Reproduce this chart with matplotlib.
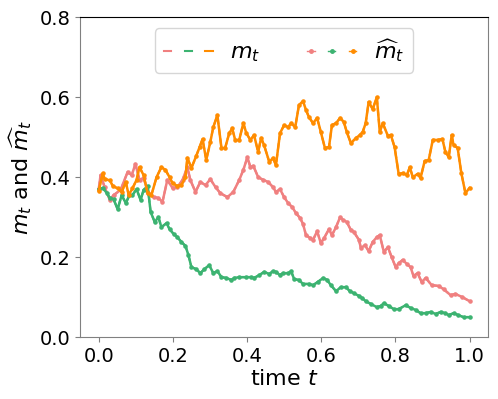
import numpy as np
import matplotlib
matplotlib.use("Agg")
import matplotlib.pyplot as plt
from matplotlib.legend_handler import HandlerTuple

# time points and values
t_pink = [0.000, 0.005, 0.016, 0.030, 0.040, 0.059, 0.078, 0.089, 0.099, 0.110,
          0.121, 0.134, 0.148, 0.161, 0.172, 0.185, 0.199, 0.212, 0.226, 0.239,
          0.247, 0.261, 0.274, 0.288, 0.301, 0.315, 0.328, 0.347, 0.363, 0.379,
          0.390, 0.401, 0.409, 0.417, 0.430, 0.444, 0.457, 0.470, 0.478, 0.489,
          0.500, 0.511, 0.522, 0.532, 0.543, 0.551, 0.559, 0.570, 0.578, 0.589,
          0.599, 0.608, 0.621, 0.629, 0.640, 0.651, 0.659, 0.669, 0.680, 0.688,
          0.702, 0.707, 0.718, 0.728, 0.739, 0.750, 0.758, 0.769, 0.780, 0.790,
          0.801, 0.809, 0.820, 0.831, 0.841, 0.849, 0.860, 0.871, 0.882, 0.898,
          0.917, 0.930, 0.949, 0.962, 0.981, 1.000]
m_pink = [0.370, 0.405, 0.375, 0.343, 0.355, 0.368, 0.413, 0.405, 0.433, 0.393,
          0.398, 0.360, 0.350, 0.348, 0.338, 0.393, 0.373, 0.375, 0.393, 0.425,
          0.393, 0.363, 0.388, 0.380, 0.395, 0.375, 0.360, 0.350, 0.363, 0.393,
          0.418, 0.450, 0.425, 0.428, 0.400, 0.393, 0.388, 0.375, 0.363, 0.370,
          0.350, 0.335, 0.325, 0.310, 0.298, 0.283, 0.255, 0.248, 0.243, 0.265,
          0.235, 0.248, 0.270, 0.255, 0.275, 0.300, 0.293, 0.288, 0.268, 0.263,
          0.243, 0.223, 0.230, 0.215, 0.238, 0.250, 0.255, 0.213, 0.225, 0.200,
          0.175, 0.185, 0.193, 0.183, 0.175, 0.153, 0.160, 0.138, 0.148, 0.130,
          0.128, 0.120, 0.105, 0.108, 0.100, 0.090]

t_green = [0.000, 0.011, 0.022, 0.030, 0.040, 0.051, 0.062, 0.073, 0.083, 0.091,
           0.102, 0.113, 0.121, 0.132, 0.140, 0.151, 0.161, 0.169, 0.183, 0.191,
           0.202, 0.212, 0.223, 0.234, 0.242, 0.250, 0.263, 0.274, 0.285, 0.298,
           0.309, 0.320, 0.331, 0.344, 0.358, 0.366, 0.379, 0.398, 0.411, 0.419,
           0.433, 0.446, 0.460, 0.470, 0.478, 0.489, 0.497, 0.511, 0.519, 0.527,
           0.540, 0.551, 0.567, 0.578, 0.591, 0.605, 0.616, 0.626, 0.640, 0.653,
           0.667, 0.677, 0.688, 0.702, 0.710, 0.720, 0.734, 0.750, 0.761, 0.769,
           0.782, 0.796, 0.809, 0.828, 0.841, 0.855, 0.868, 0.882, 0.895, 0.909,
           0.922, 0.935, 0.944, 0.957, 0.970, 0.984, 1.000]
m_green = [0.370, 0.373, 0.360, 0.348, 0.345, 0.320, 0.355, 0.335, 0.355, 0.355,
           0.370, 0.343, 0.368, 0.378, 0.313, 0.288, 0.300, 0.275, 0.285, 0.270,
           0.258, 0.250, 0.238, 0.228, 0.205, 0.175, 0.170, 0.160, 0.170, 0.180,
           0.160, 0.165, 0.150, 0.148, 0.143, 0.148, 0.150, 0.150, 0.150, 0.148,
           0.155, 0.163, 0.158, 0.165, 0.163, 0.155, 0.160, 0.160, 0.165, 0.145,
           0.143, 0.133, 0.133, 0.130, 0.138, 0.148, 0.143, 0.130, 0.115, 0.125,
           0.125, 0.115, 0.110, 0.103, 0.098, 0.090, 0.083, 0.075, 0.078, 0.085,
           0.078, 0.070, 0.070, 0.080, 0.073, 0.068, 0.060, 0.060, 0.063, 0.058,
           0.063, 0.060, 0.055, 0.060, 0.055, 0.050, 0.050]

t_orange = [0.000, 0.011, 0.016, 0.030, 0.038, 0.051, 0.062, 0.073, 0.081, 0.091,
            0.102, 0.110, 0.121, 0.132, 0.142, 0.156, 0.169, 0.180, 0.191, 0.199,
            0.212, 0.223, 0.234, 0.239, 0.250, 0.263, 0.272, 0.280, 0.290, 0.301,
            0.309, 0.320, 0.331, 0.341, 0.352, 0.360, 0.368, 0.379, 0.390, 0.398,
            0.409, 0.419, 0.430, 0.438, 0.446, 0.460, 0.470, 0.478, 0.489, 0.500,
            0.511, 0.519, 0.530, 0.540, 0.551, 0.559, 0.567, 0.578, 0.589, 0.599,
            0.610, 0.621, 0.629, 0.640, 0.651, 0.661, 0.669, 0.680, 0.694, 0.704,
            0.712, 0.720, 0.728, 0.739, 0.750, 0.758, 0.766, 0.780, 0.788, 0.798,
            0.809, 0.820, 0.831, 0.839, 0.847, 0.860, 0.868, 0.879, 0.890, 0.901,
            0.914, 0.927, 0.935, 0.944, 0.952, 0.957, 0.968, 0.978, 0.989, 1.000]
m_orange = [0.366, 0.410, 0.395, 0.392, 0.378, 0.372, 0.363, 0.388, 0.355, 0.372,
            0.393, 0.425, 0.405, 0.360, 0.355, 0.400, 0.425, 0.418, 0.400, 0.385,
            0.378, 0.380, 0.400, 0.448, 0.423, 0.453, 0.475, 0.495, 0.443, 0.488,
            0.525, 0.555, 0.473, 0.473, 0.510, 0.522, 0.493, 0.493, 0.535, 0.510,
            0.493, 0.505, 0.463, 0.498, 0.480, 0.438, 0.448, 0.430, 0.510, 0.530,
            0.525, 0.535, 0.525, 0.580, 0.590, 0.568, 0.550, 0.535, 0.548, 0.513,
            0.473, 0.475, 0.530, 0.535, 0.548, 0.538, 0.513, 0.485, 0.498, 0.505,
            0.513, 0.535, 0.588, 0.570, 0.600, 0.513, 0.535, 0.503, 0.505, 0.475,
            0.408, 0.410, 0.405, 0.425, 0.400, 0.408, 0.398, 0.440, 0.443, 0.493,
            0.493, 0.495, 0.463, 0.450, 0.505, 0.480, 0.473, 0.410, 0.360, 0.373]

series = [(t_pink, m_pink, "#F08080"),
          (t_green, m_green, "#3CB371"),
          (t_orange, m_orange, "#FF8C00")]

fig = plt.figure(figsize=(4.98, 3.99), dpi=100)
ax = fig.add_axes([0.161, 0.155, 0.819, 0.802])

for t, m, c in series:
    ax.plot(t, m, "--", color=c, lw=1.5)
    ax.plot(t, m, "-", color=c, lw=1.8, marker=".", markersize=4.5)

ax.set_ylim(0, 0.8)
ax.set_yticks([0.0, 0.2, 0.4, 0.6, 0.8])
ax.set_xticks([0.0, 0.2, 0.4, 0.6, 0.8, 1.0])
ax.tick_params(labelsize=14, color="gray", length=3.5)
for s in ["left", "bottom", "right"]:
    ax.spines[s].set_color("gray")
ax.set_xlabel("time $t$", fontsize=16, labelpad=2)
ax.set_ylabel(r"$m_t$ and $\widehat{m}_t$", fontsize=16)

# legend: three short strokes per entry
leg_true = [plt.Line2D([], [], ls="-", color=c, lw=1.5) for _, _, c in series]
leg_est = [plt.Line2D([], [], ls="-", color=c, lw=1.0, marker=".", markersize=5) for _, _, c in series]
ax.legend([tuple(leg_true), tuple(leg_est)],
          ["$m_t$", r"$\widehat{m}_t$"],
          handler_map={tuple: HandlerTuple(ndivide=None, pad=0.6)},
          loc="upper center", ncol=2, fontsize=16, handlelength=2.2,
          columnspacing=2.1, borderpad=0.4, numpoints=1,
          handletextpad=0.8)

fig.savefig("out.png", dpi=100)
